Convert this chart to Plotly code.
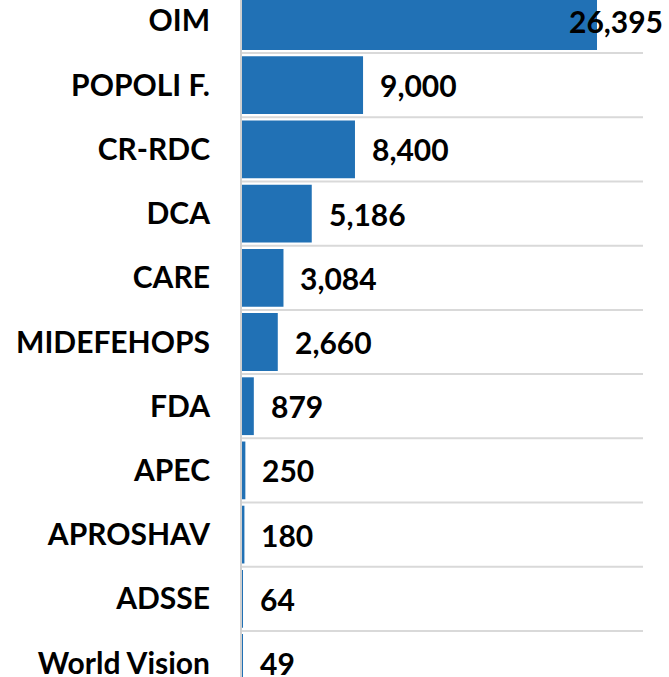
import plotly.graph_objects as go

# Data
partners = ["OIM", "POPOLI F.", "CR-RDC", "DCA", "CARE", "MIDEFEHOPS",
            "FDA", "APEC", "APROSHAV", "ADSSE", "World Vision"]
amounts = [26395, 9000, 8400, 5186, 3084, 2660, 879, 250, 180, 64, 49]

bar_color = "#2171b5"
font_fam = "Lato"
lbl_font = dict(family=font_fam, size=30, color="black", weight="bold")

fig = go.Figure()
fig.add_trace(go.Bar(
    x=amounts,
    y=partners,
    orientation="h",
    width=0.9,
    marker=dict(color=bar_color, line=dict(width=0)),
    hoverinfo="x+y",
))

# value labels just past each bar end; the largest one is pulled inside the frame
xmax = 31450
annotations = []
for name, val in zip(partners, amounts):
    label = f"{val:,}"
    if val > 0.8 * xmax:
        annotations.append(dict(x=1, xref="paper", y=name, yref="y", text=label,
                                xanchor="right", showarrow=False, font=lbl_font))
    else:
        annotations.append(dict(x=val, xref="x", y=name, yref="y", text=label,
                                xanchor="left", xshift=15, showarrow=False, font=lbl_font))

# light separators between rows
shapes = []
for i in range(len(partners) - 1):
    shapes.append(dict(type="line", xref="paper", yref="y", x0=0, x1=0.948,
                       y0=i + 0.5, y1=i + 0.5, line=dict(color="#d9d9d9", width=2)))

fig.update_layout(
    width=669, height=677,
    margin=dict(l=242, r=4, t=0, b=0),
    plot_bgcolor="white",
    paper_bgcolor="white",
    showlegend=False,
    annotations=annotations,
    shapes=shapes,
    xaxis=dict(range=[0, xmax], visible=False, showgrid=False, zeroline=False),
    yaxis=dict(
        categoryorder="array", categoryarray=partners,
        range=[10.218, -0.327],
        automargin=False,
        showgrid=False, zeroline=False,
        showline=True, linecolor="#d0d0d0", linewidth=2,
        ticks="outside", ticklen=24, tickcolor="rgba(0,0,0,0)",
        tickfont=lbl_font,
    ),
)

fig.write_html("out.html", config={"displayModeBar": False},
               post_script="document.body.style.margin='0px';document.body.style.overflow='hidden';")
